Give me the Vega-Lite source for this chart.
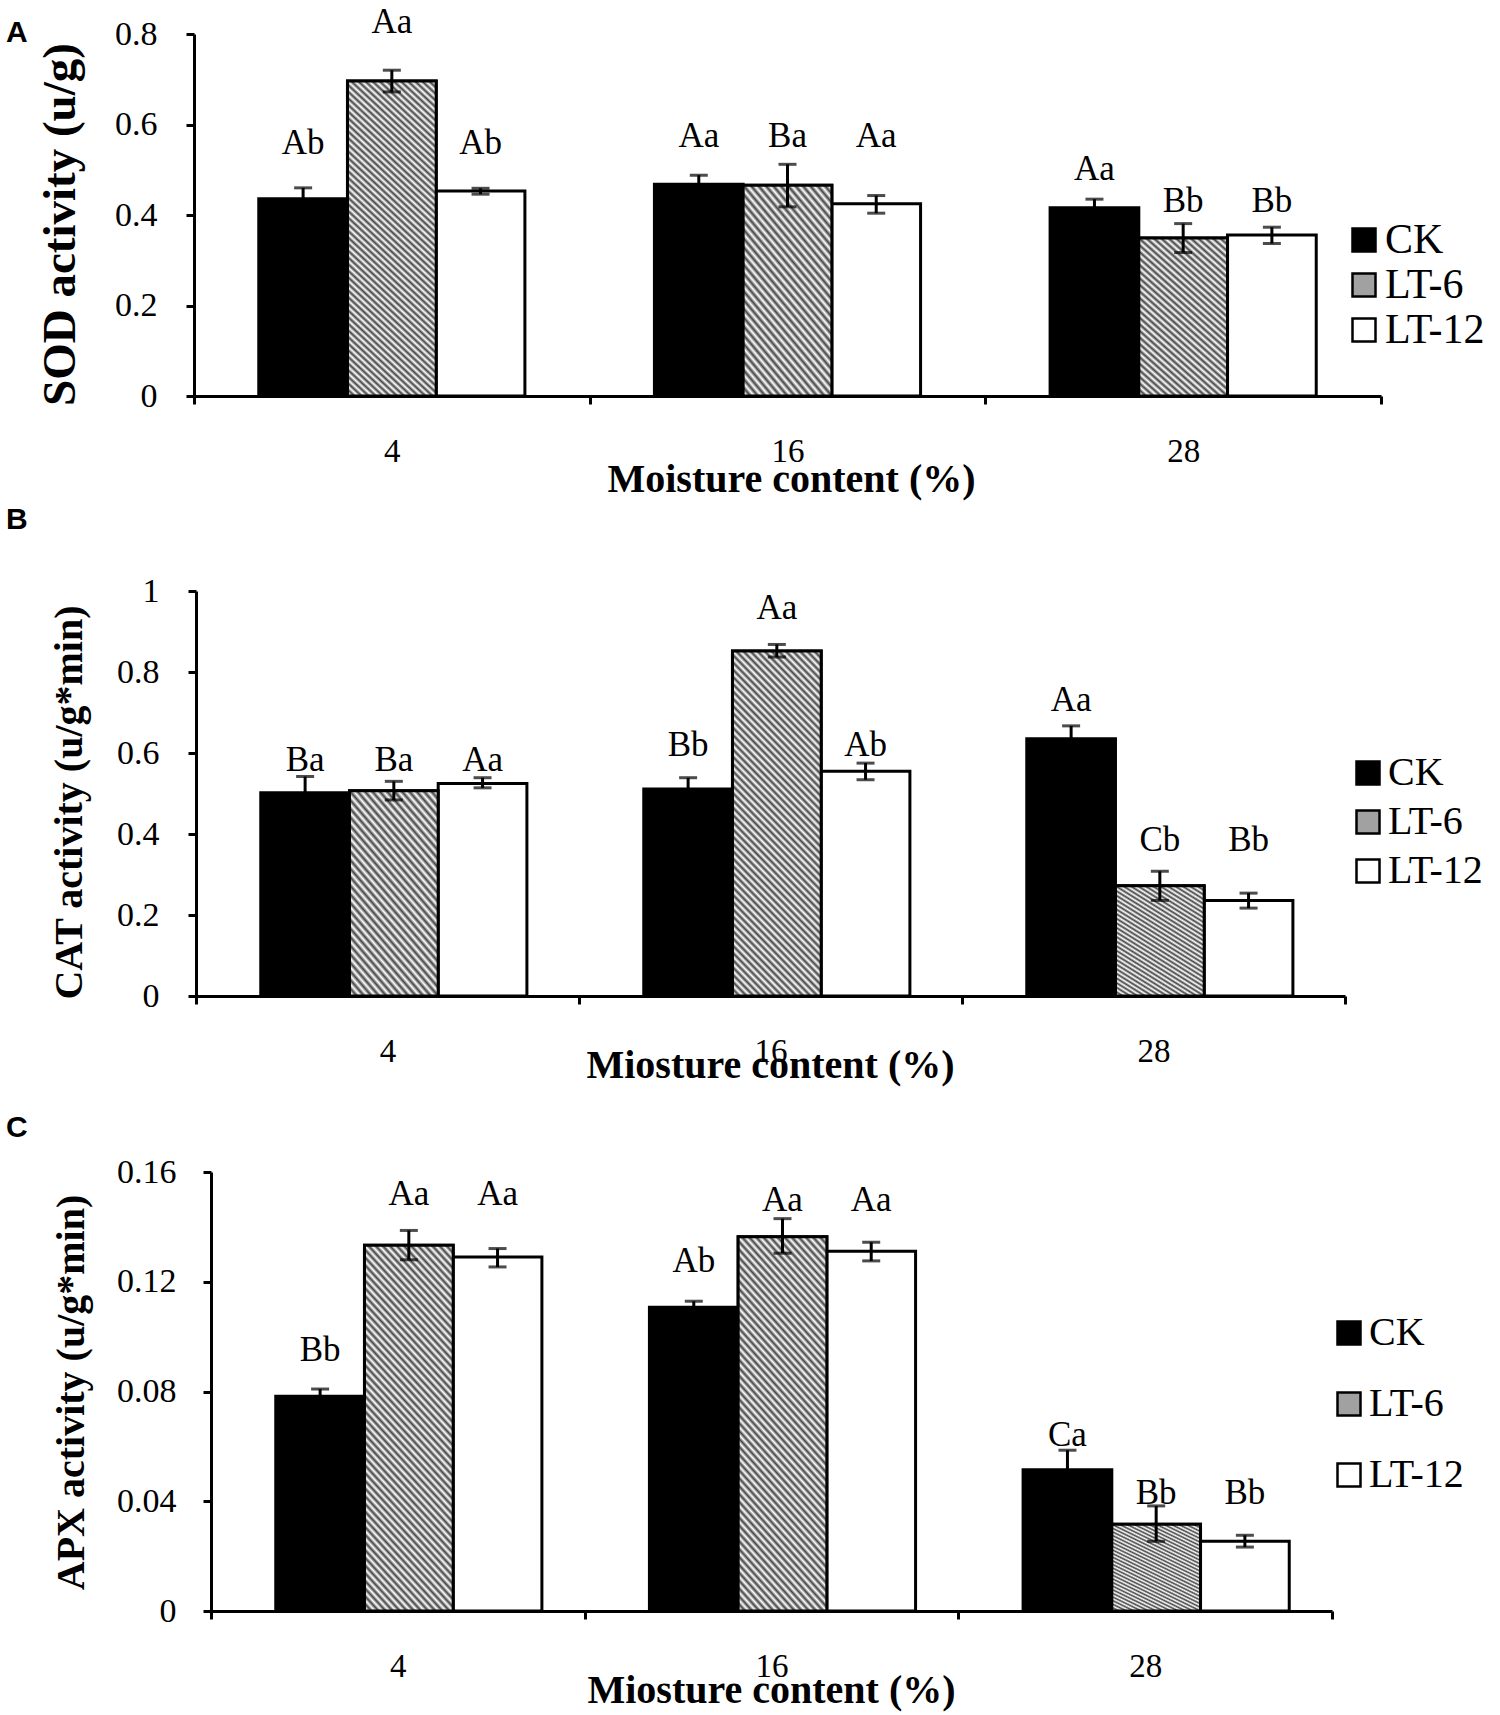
{
  "$schema": "https://vega.github.io/schema/vega-lite/v6.json",
  "background": "white",
  "padding": {"left": 6, "top": 4, "right": 0, "bottom": 2},
  "params": [
    {
      "name": "hatch",
      "value": {
        "gradient": "linear", "x1": 0, "y1": 1, "x2": 0.3109, "y2": -0.1813,
        "stops": [
          {"offset": 0, "color": "#444"}, {"offset": 0.0083, "color": "#fff"}, {"offset": 0.0167, "color": "#444"}, {"offset": 0.025, "color": "#fff"},
          {"offset": 0.0333, "color": "#444"}, {"offset": 0.0417, "color": "#fff"}, {"offset": 0.05, "color": "#444"}, {"offset": 0.0583, "color": "#fff"},
          {"offset": 0.0667, "color": "#444"}, {"offset": 0.075, "color": "#fff"}, {"offset": 0.0833, "color": "#444"}, {"offset": 0.0917, "color": "#fff"},
          {"offset": 0.1, "color": "#444"}, {"offset": 0.1083, "color": "#fff"}, {"offset": 0.1167, "color": "#444"}, {"offset": 0.125, "color": "#fff"},
          {"offset": 0.1333, "color": "#444"}, {"offset": 0.1417, "color": "#fff"}, {"offset": 0.15, "color": "#444"}, {"offset": 0.1583, "color": "#fff"},
          {"offset": 0.1667, "color": "#444"}, {"offset": 0.175, "color": "#fff"}, {"offset": 0.1833, "color": "#444"}, {"offset": 0.1917, "color": "#fff"},
          {"offset": 0.2, "color": "#444"}, {"offset": 0.2083, "color": "#fff"}, {"offset": 0.2167, "color": "#444"}, {"offset": 0.225, "color": "#fff"},
          {"offset": 0.2333, "color": "#444"}, {"offset": 0.2417, "color": "#fff"}, {"offset": 0.25, "color": "#444"}, {"offset": 0.2583, "color": "#fff"},
          {"offset": 0.2667, "color": "#444"}, {"offset": 0.275, "color": "#fff"}, {"offset": 0.2833, "color": "#444"}, {"offset": 0.2917, "color": "#fff"},
          {"offset": 0.3, "color": "#444"}, {"offset": 0.3083, "color": "#fff"}, {"offset": 0.3167, "color": "#444"}, {"offset": 0.325, "color": "#fff"},
          {"offset": 0.3333, "color": "#444"}, {"offset": 0.3417, "color": "#fff"}, {"offset": 0.35, "color": "#444"}, {"offset": 0.3583, "color": "#fff"},
          {"offset": 0.3667, "color": "#444"}, {"offset": 0.375, "color": "#fff"}, {"offset": 0.3833, "color": "#444"}, {"offset": 0.3917, "color": "#fff"},
          {"offset": 0.4, "color": "#444"}, {"offset": 0.4083, "color": "#fff"}, {"offset": 0.4167, "color": "#444"}, {"offset": 0.425, "color": "#fff"},
          {"offset": 0.4333, "color": "#444"}, {"offset": 0.4417, "color": "#fff"}, {"offset": 0.45, "color": "#444"}, {"offset": 0.4583, "color": "#fff"},
          {"offset": 0.4667, "color": "#444"}, {"offset": 0.475, "color": "#fff"}, {"offset": 0.4833, "color": "#444"}, {"offset": 0.4917, "color": "#fff"},
          {"offset": 0.5, "color": "#444"}, {"offset": 0.5083, "color": "#fff"}, {"offset": 0.5167, "color": "#444"}, {"offset": 0.525, "color": "#fff"},
          {"offset": 0.5333, "color": "#444"}, {"offset": 0.5417, "color": "#fff"}, {"offset": 0.55, "color": "#444"}, {"offset": 0.5583, "color": "#fff"},
          {"offset": 0.5667, "color": "#444"}, {"offset": 0.575, "color": "#fff"}, {"offset": 0.5833, "color": "#444"}, {"offset": 0.5917, "color": "#fff"},
          {"offset": 0.6, "color": "#444"}, {"offset": 0.6083, "color": "#fff"}, {"offset": 0.6167, "color": "#444"}, {"offset": 0.625, "color": "#fff"},
          {"offset": 0.6333, "color": "#444"}, {"offset": 0.6417, "color": "#fff"}, {"offset": 0.65, "color": "#444"}, {"offset": 0.6583, "color": "#fff"},
          {"offset": 0.6667, "color": "#444"}, {"offset": 0.675, "color": "#fff"}, {"offset": 0.6833, "color": "#444"}, {"offset": 0.6917, "color": "#fff"},
          {"offset": 0.7, "color": "#444"}, {"offset": 0.7083, "color": "#fff"}, {"offset": 0.7167, "color": "#444"}, {"offset": 0.725, "color": "#fff"},
          {"offset": 0.7333, "color": "#444"}, {"offset": 0.7417, "color": "#fff"}, {"offset": 0.75, "color": "#444"}, {"offset": 0.7583, "color": "#fff"},
          {"offset": 0.7667, "color": "#444"}, {"offset": 0.775, "color": "#fff"}, {"offset": 0.7833, "color": "#444"}, {"offset": 0.7917, "color": "#fff"},
          {"offset": 0.8, "color": "#444"}, {"offset": 0.8083, "color": "#fff"}, {"offset": 0.8167, "color": "#444"}, {"offset": 0.825, "color": "#fff"},
          {"offset": 0.8333, "color": "#444"}, {"offset": 0.8417, "color": "#fff"}, {"offset": 0.85, "color": "#444"}, {"offset": 0.8583, "color": "#fff"},
          {"offset": 0.8667, "color": "#444"}, {"offset": 0.875, "color": "#fff"}, {"offset": 0.8833, "color": "#444"}, {"offset": 0.8917, "color": "#fff"},
          {"offset": 0.9, "color": "#444"}, {"offset": 0.9083, "color": "#fff"}, {"offset": 0.9167, "color": "#444"}, {"offset": 0.925, "color": "#fff"},
          {"offset": 0.9333, "color": "#444"}, {"offset": 0.9417, "color": "#fff"}, {"offset": 0.95, "color": "#444"}, {"offset": 0.9583, "color": "#fff"},
          {"offset": 0.9667, "color": "#444"}, {"offset": 0.975, "color": "#fff"}, {"offset": 0.9833, "color": "#444"}, {"offset": 0.9917, "color": "#fff"},
          {"offset": 1, "color": "#444"}
        ]
      }
    },
    {
      "name": "hatchlow",
      "value": {
        "gradient": "linear", "x1": 0, "y1": 1, "x2": 0.6, "y2": -0.2,
        "stops": [
          {"offset": 0, "color": "#444"}, {"offset": 0.0139, "color": "#fff"}, {"offset": 0.0278, "color": "#444"}, {"offset": 0.0417, "color": "#fff"},
          {"offset": 0.0556, "color": "#444"}, {"offset": 0.0694, "color": "#fff"}, {"offset": 0.0833, "color": "#444"}, {"offset": 0.0972, "color": "#fff"},
          {"offset": 0.1111, "color": "#444"}, {"offset": 0.125, "color": "#fff"}, {"offset": 0.1389, "color": "#444"}, {"offset": 0.1528, "color": "#fff"},
          {"offset": 0.1667, "color": "#444"}, {"offset": 0.1806, "color": "#fff"}, {"offset": 0.1944, "color": "#444"}, {"offset": 0.2083, "color": "#fff"},
          {"offset": 0.2222, "color": "#444"}, {"offset": 0.2361, "color": "#fff"}, {"offset": 0.25, "color": "#444"}, {"offset": 0.2639, "color": "#fff"},
          {"offset": 0.2778, "color": "#444"}, {"offset": 0.2917, "color": "#fff"}, {"offset": 0.3056, "color": "#444"}, {"offset": 0.3194, "color": "#fff"},
          {"offset": 0.3333, "color": "#444"}, {"offset": 0.3472, "color": "#fff"}, {"offset": 0.3611, "color": "#444"}, {"offset": 0.375, "color": "#fff"},
          {"offset": 0.3889, "color": "#444"}, {"offset": 0.4028, "color": "#fff"}, {"offset": 0.4167, "color": "#444"}, {"offset": 0.4306, "color": "#fff"},
          {"offset": 0.4444, "color": "#444"}, {"offset": 0.4583, "color": "#fff"}, {"offset": 0.4722, "color": "#444"}, {"offset": 0.4861, "color": "#fff"},
          {"offset": 0.5, "color": "#444"}, {"offset": 0.5139, "color": "#fff"}, {"offset": 0.5278, "color": "#444"}, {"offset": 0.5417, "color": "#fff"},
          {"offset": 0.5556, "color": "#444"}, {"offset": 0.5694, "color": "#fff"}, {"offset": 0.5833, "color": "#444"}, {"offset": 0.5972, "color": "#fff"},
          {"offset": 0.6111, "color": "#444"}, {"offset": 0.625, "color": "#fff"}, {"offset": 0.6389, "color": "#444"}, {"offset": 0.6528, "color": "#fff"},
          {"offset": 0.6667, "color": "#444"}, {"offset": 0.6806, "color": "#fff"}, {"offset": 0.6944, "color": "#444"}, {"offset": 0.7083, "color": "#fff"},
          {"offset": 0.7222, "color": "#444"}, {"offset": 0.7361, "color": "#fff"}, {"offset": 0.75, "color": "#444"}, {"offset": 0.7639, "color": "#fff"},
          {"offset": 0.7778, "color": "#444"}, {"offset": 0.7917, "color": "#fff"}, {"offset": 0.8056, "color": "#444"}, {"offset": 0.8194, "color": "#fff"},
          {"offset": 0.8333, "color": "#444"}, {"offset": 0.8472, "color": "#fff"}, {"offset": 0.8611, "color": "#444"}, {"offset": 0.875, "color": "#fff"},
          {"offset": 0.8889, "color": "#444"}, {"offset": 0.9028, "color": "#fff"}, {"offset": 0.9167, "color": "#444"}, {"offset": 0.9306, "color": "#fff"},
          {"offset": 0.9444, "color": "#444"}, {"offset": 0.9583, "color": "#fff"}, {"offset": 0.9722, "color": "#444"}, {"offset": 0.9861, "color": "#fff"},
          {"offset": 1, "color": "#444"}
        ]
      }
    }
  ],
  "config": {
    "font": "Liberation Serif",
    "view": {"stroke": null},
    "axis": {
      "grid": false,
      "domainColor": "black",
      "domainWidth": 3,
      "tickColor": "black",
      "tickWidth": 3,
      "tickSize": 8,
      "labelColor": "black",
      "titleColor": "black",
      "labelFont": "Liberation Serif",
      "titleFont": "Liberation Serif"
    },
    "legend": {
      "orient": "none",
      "title": null,
      "symbolType": "square",
      "symbolSize": 529,
      "symbolStrokeColor": "black",
      "symbolStrokeWidth": 2.5,
      "symbolOpacity": 1,
      "labelFont": "Liberation Serif",
      "labelColor": "black",
      "labelOffset": 0,
      "padding": 0
    },
    "title": {"font": "Liberation Sans", "fontSize": 30, "fontWeight": "bold", "color": "black", "anchor": "start", "frame": "group", "baseline": "middle"}
  },
  "datasets": {
    "sod": [
      {"m": "4", "t": "CK", "v": 0.436, "lo": 0.412, "hi": 0.460, "sig": "Ab", "ly": 0.560},
      {"m": "4", "t": "LT-6", "v": 0.696, "lo": 0.672, "hi": 0.720, "sig": "Aa", "ly": 0.827},
      {"m": "4", "t": "LT-12", "v": 0.453, "lo": 0.446, "hi": 0.459, "sig": "Ab", "ly": 0.560},
      {"m": "16", "t": "CK", "v": 0.468, "lo": 0.448, "hi": 0.488, "sig": "Aa", "ly": 0.575},
      {"m": "16", "t": "LT-6", "v": 0.466, "lo": 0.418, "hi": 0.512, "sig": "Ba", "ly": 0.575},
      {"m": "16", "t": "LT-12", "v": 0.425, "lo": 0.404, "hi": 0.443, "sig": "Aa", "ly": 0.575},
      {"m": "28", "t": "CK", "v": 0.416, "lo": 0.397, "hi": 0.435, "sig": "Aa", "ly": 0.501},
      {"m": "28", "t": "LT-6", "v": 0.349, "lo": 0.317, "hi": 0.381, "sig": "Bb", "ly": 0.431},
      {"m": "28", "t": "LT-12", "v": 0.356, "lo": 0.337, "hi": 0.373, "sig": "Bb", "ly": 0.431}
    ],
    "cat": [
      {"m": "4", "t": "CK", "v": 0.502, "lo": 0.462, "hi": 0.542, "sig": "Ba", "ly": 0.583},
      {"m": "4", "t": "LT-6", "v": 0.507, "lo": 0.484, "hi": 0.530, "sig": "Ba", "ly": 0.583},
      {"m": "4", "t": "LT-12", "v": 0.525, "lo": 0.514, "hi": 0.539, "sig": "Aa", "ly": 0.583},
      {"m": "16", "t": "CK", "v": 0.511, "lo": 0.483, "hi": 0.539, "sig": "Bb", "ly": 0.620},
      {"m": "16", "t": "LT-6", "v": 0.852, "lo": 0.837, "hi": 0.868, "sig": "Aa", "ly": 0.959},
      {"m": "16", "t": "LT-12", "v": 0.555, "lo": 0.534, "hi": 0.575, "sig": "Ab", "ly": 0.619},
      {"m": "28", "t": "CK", "v": 0.635, "lo": 0.603, "hi": 0.667, "sig": "Aa", "ly": 0.731},
      {"m": "28", "t": "LT-6", "v": 0.272, "lo": 0.236, "hi": 0.308, "sig": "Cb", "ly": 0.386},
      {"m": "28", "t": "LT-12", "v": 0.236, "lo": 0.217, "hi": 0.254, "sig": "Bb", "ly": 0.386}
    ],
    "apx": [
      {"m": "4", "t": "CK", "v": 0.0783, "lo": 0.0757, "hi": 0.0809, "sig": "Bb", "ly": 0.0950},
      {"m": "4", "t": "LT-6", "v": 0.1333, "lo": 0.1280, "hi": 0.1387, "sig": "Aa", "ly": 0.1518},
      {"m": "4", "t": "LT-12", "v": 0.1290, "lo": 0.1254, "hi": 0.1321, "sig": "Aa", "ly": 0.1518},
      {"m": "16", "t": "CK", "v": 0.1107, "lo": 0.1085, "hi": 0.1129, "sig": "Ab", "ly": 0.1276},
      {"m": "16", "t": "LT-6", "v": 0.1364, "lo": 0.1304, "hi": 0.1430, "sig": "Aa", "ly": 0.1497},
      {"m": "16", "t": "LT-12", "v": 0.1311, "lo": 0.1276, "hi": 0.1344, "sig": "Aa", "ly": 0.1497},
      {"m": "28", "t": "CK", "v": 0.0515, "lo": 0.0444, "hi": 0.0586, "sig": "Ca", "ly": 0.0643},
      {"m": "28", "t": "LT-6", "v": 0.0316, "lo": 0.0254, "hi": 0.0383, "sig": "Bb", "ly": 0.0430},
      {"m": "28", "t": "LT-12", "v": 0.0254, "lo": 0.0233, "hi": 0.0276, "sig": "Bb", "ly": 0.0430}
    ]
  },
  "bounds": "flush",
  "spacing": 195,
  "resolve": {"scale": {"fill": "independent"}, "legend": {"fill": "independent"}},
  "vconcat": [
    {
      "width": 1187,
      "height": 362,
      "title": {"text": "A", "offset": -43, "dx": -188},
      "data": {"name": "sod"},
      "encoding": {
        "x": {
          "field": "m", "type": "ordinal", "sort": ["4", "16", "28"],
          "scale": {"paddingInner": 0, "paddingOuter": 0},
          "axis": {
            "tickBand": "extent", "labelAngle": 0,
            "labelFontSize": 33, "labelPadding": 47, "labelBaseline": "middle",
            "title": "Moisture content (%)", "titleFontSize": 40, "titleFontWeight": "bold",
            "titleX": 597, "titleY": 83, "titleBaseline": "middle"
          }
        },
        "xOffset": {"field": "t", "type": "nominal", "sort": ["CK", "LT-6", "LT-12"], "scale": {"paddingInner": 0, "paddingOuter": 0.73}}
      },
      "layer": [
        {
          "mark": {"type": "bar", "stroke": "black", "strokeWidth": 3},
          "encoding": {
            "y": {
              "field": "v", "type": "quantitative", "scale": {"domain": [0, 0.8]},
              "axis": {
                "values": [0, 0.2, 0.4, 0.6, 0.8], "format": "~g", "labelFontSize": 34, "labelPadding": 29,
                "title": "SOD activity (u/g)", "titleFontSize": 47, "titleFontWeight": "bold",
                "titleAngle": -90, "titleX": -134, "titleY": 190, "titleBaseline": "middle", "titleAlign": "center"
              }
            },
            "fill": {
              "field": "t", "type": "nominal",
              "scale": {"domain": ["CK", "LT-6", "LT-12"], "range": ["#000000", "#a1a1a1", "#ffffff"]},
              "legend": {"legendX": 1149, "legendY": 185, "labelFontSize": 42, "rowPadding": 3}
            }
          }
        },
        {
          "transform": [{"filter": "datum.t == 'LT-6' && datum.m == '4'"}],
          "mark": {"type": "bar", "fill": {"expr": "hatch"}, "stroke": "black", "strokeWidth": 3},
          "encoding": {"y": {"field": "v", "type": "quantitative"}}
        },
        {
          "transform": [{"filter": "datum.t == 'LT-6' && datum.m != '4'"}],
          "mark": {"type": "bar", "fill": {"expr": "hatchlow"}, "stroke": "black", "strokeWidth": 3},
          "encoding": {"y": {"field": "v", "type": "quantitative"}}
        },
        {
          "mark": {"type": "rule", "color": "black", "strokeWidth": 3},
          "encoding": {"y": {"field": "lo", "type": "quantitative"}, "y2": {"field": "hi"}}
        },
        {
          "mark": {"type": "tick", "color": "black", "orient": "horizontal", "size": 18, "thickness": 3},
          "encoding": {"y": {"field": "lo", "type": "quantitative"}}
        },
        {
          "mark": {"type": "tick", "color": "black", "orient": "horizontal", "size": 18, "thickness": 3},
          "encoding": {"y": {"field": "hi", "type": "quantitative"}}
        },
        {
          "mark": {"type": "text", "fontSize": 35, "baseline": "middle", "align": "center", "color": "black"},
          "encoding": {"y": {"field": "ly", "type": "quantitative"}, "text": {"field": "sig"}}
        }
      ]
    },
    {
      "bounds": "flush",
      "spacing": 176,
      "resolve": {"scale": {"fill": "independent"}, "legend": {"fill": "independent"}},
      "vconcat": [
        {
          "width": 1151,
          "height": 405,
          "title": {"text": "B", "offset": 39, "dx": -188},
          "data": {"name": "cat"},
          "encoding": {
            "x": {
              "field": "m", "type": "ordinal", "sort": ["4", "16", "28"],
              "scale": {"paddingInner": 0, "paddingOuter": 0, "range": [2, 1151]},
              "axis": {
                "tickBand": "extent", "labelAngle": 0,
                "labelFontSize": 33, "labelPadding": 47, "labelBaseline": "middle",
                "title": "Miosture content (%)", "titleFontSize": 40, "titleFontWeight": "bold",
                "titleX": 576, "titleY": 69, "titleBaseline": "middle"
              }
            },
            "xOffset": {"field": "t", "type": "nominal", "sort": ["CK", "LT-6", "LT-12"], "scale": {"paddingInner": 0, "paddingOuter": 0.75}}
          },
          "layer": [
            {
              "mark": {"type": "bar", "stroke": "black", "strokeWidth": 3},
              "encoding": {
                "y": {
                  "field": "v", "type": "quantitative", "scale": {"domain": [0, 1]},
                  "axis": {
                    "offset": -2,
                    "values": [0, 0.2, 0.4, 0.6, 0.8, 1], "format": "~g", "labelFontSize": 34, "labelPadding": 29,
                    "title": "CAT activity (u/g*min)", "titleFontSize": 40, "titleFontWeight": "bold",
                    "titleAngle": -90, "titleX": -127, "titleY": 211, "titleBaseline": "middle", "titleAlign": "center"
                  }
                },
                "fill": {
                  "field": "t", "type": "nominal",
                  "scale": {"domain": ["CK", "LT-6", "LT-12"], "range": ["#000000", "#a1a1a1", "#ffffff"]},
                  "legend": {"legendX": 1154, "legendY": 162, "labelFontSize": 40, "rowPadding": 9}
                }
              }
            },
            {
              "transform": [{"filter": "datum.t == 'LT-6' && datum.m == '16'"}],
              "mark": {"type": "bar", "fill": {"expr": "hatch"}, "stroke": "black", "strokeWidth": 3},
              "encoding": {"y": {"field": "v", "type": "quantitative"}}
            },
            {
              "transform": [{"filter": "datum.t == 'LT-6' && datum.m != '16'"}],
              "mark": {"type": "bar", "fill": {"expr": "hatchlow"}, "stroke": "black", "strokeWidth": 3},
              "encoding": {"y": {"field": "v", "type": "quantitative"}}
            },
            {
              "mark": {"type": "rule", "color": "black", "strokeWidth": 3},
              "encoding": {"y": {"field": "lo", "type": "quantitative"}, "y2": {"field": "hi"}}
            },
            {
              "mark": {"type": "tick", "color": "black", "orient": "horizontal", "size": 18, "thickness": 3},
              "encoding": {"y": {"field": "lo", "type": "quantitative"}}
            },
            {
              "mark": {"type": "tick", "color": "black", "orient": "horizontal", "size": 18, "thickness": 3},
              "encoding": {"y": {"field": "hi", "type": "quantitative"}}
            },
            {
              "mark": {"type": "text", "fontSize": 35, "baseline": "middle", "align": "center", "color": "black"},
              "encoding": {"y": {"field": "ly", "type": "quantitative"}, "text": {"field": "sig"}}
            }
          ]
        },
        {
          "width": 1138,
          "height": 439,
          "title": {"text": "C", "offset": 12, "dx": -188},
          "data": {"name": "apx"},
          "encoding": {
            "x": {
              "field": "m", "type": "ordinal", "sort": ["4", "16", "28"],
              "scale": {"paddingInner": 0, "paddingOuter": 0, "range": [17, 1138]},
              "axis": {
                "tickBand": "extent", "labelAngle": 0,
                "labelFontSize": 33, "labelPadding": 47, "labelBaseline": "middle",
                "title": "Miosture content (%)", "titleFontSize": 40, "titleFontWeight": "bold",
                "titleX": 577, "titleY": 79, "titleBaseline": "middle"
              }
            },
            "xOffset": {"field": "t", "type": "nominal", "sort": ["CK", "LT-6", "LT-12"], "scale": {"paddingInner": 0, "paddingOuter": 0.77}}
          },
          "layer": [
            {
              "mark": {"type": "bar", "stroke": "black", "strokeWidth": 3},
              "encoding": {
                "y": {
                  "field": "v", "type": "quantitative", "scale": {"domain": [0, 0.16]},
                  "axis": {
                    "offset": -17,
                    "values": [0, 0.04, 0.08, 0.12, 0.16], "format": "~g", "labelFontSize": 34, "labelPadding": 27,
                    "title": "APX activity (u/g*min)", "titleFontSize": 40, "titleFontWeight": "bold",
                    "titleAngle": -90, "titleX": -140, "titleY": 220, "titleBaseline": "middle", "titleAlign": "center"
                  }
                },
                "fill": {
                  "field": "t", "type": "nominal",
                  "scale": {"domain": ["CK", "LT-6", "LT-12"], "range": ["#000000", "#a1a1a1", "#ffffff"]},
                  "legend": {"legendX": 1135, "legendY": 141, "labelFontSize": 40, "rowPadding": 31}
                }
              }
            },
            {
              "transform": [{"filter": "datum.t == 'LT-6' && datum.m != '28'"}],
              "mark": {"type": "bar", "fill": {"expr": "hatch"}, "stroke": "black", "strokeWidth": 3},
              "encoding": {"y": {"field": "v", "type": "quantitative"}}
            },
            {
              "transform": [{"filter": "datum.t == 'LT-6' && datum.m == '28'"}],
              "mark": {"type": "bar", "fill": {"expr": "hatchlow"}, "stroke": "black", "strokeWidth": 3},
              "encoding": {"y": {"field": "v", "type": "quantitative"}}
            },
            {
              "mark": {"type": "rule", "color": "black", "strokeWidth": 3},
              "encoding": {"y": {"field": "lo", "type": "quantitative"}, "y2": {"field": "hi"}}
            },
            {
              "mark": {"type": "tick", "color": "black", "orient": "horizontal", "size": 18, "thickness": 3},
              "encoding": {"y": {"field": "lo", "type": "quantitative"}}
            },
            {
              "mark": {"type": "tick", "color": "black", "orient": "horizontal", "size": 18, "thickness": 3},
              "encoding": {"y": {"field": "hi", "type": "quantitative"}}
            },
            {
              "mark": {"type": "text", "fontSize": 35, "baseline": "middle", "align": "center", "color": "black"},
              "encoding": {"y": {"field": "ly", "type": "quantitative"}, "text": {"field": "sig"}}
            }
          ]
        }
      ]
    }
  ]
}
